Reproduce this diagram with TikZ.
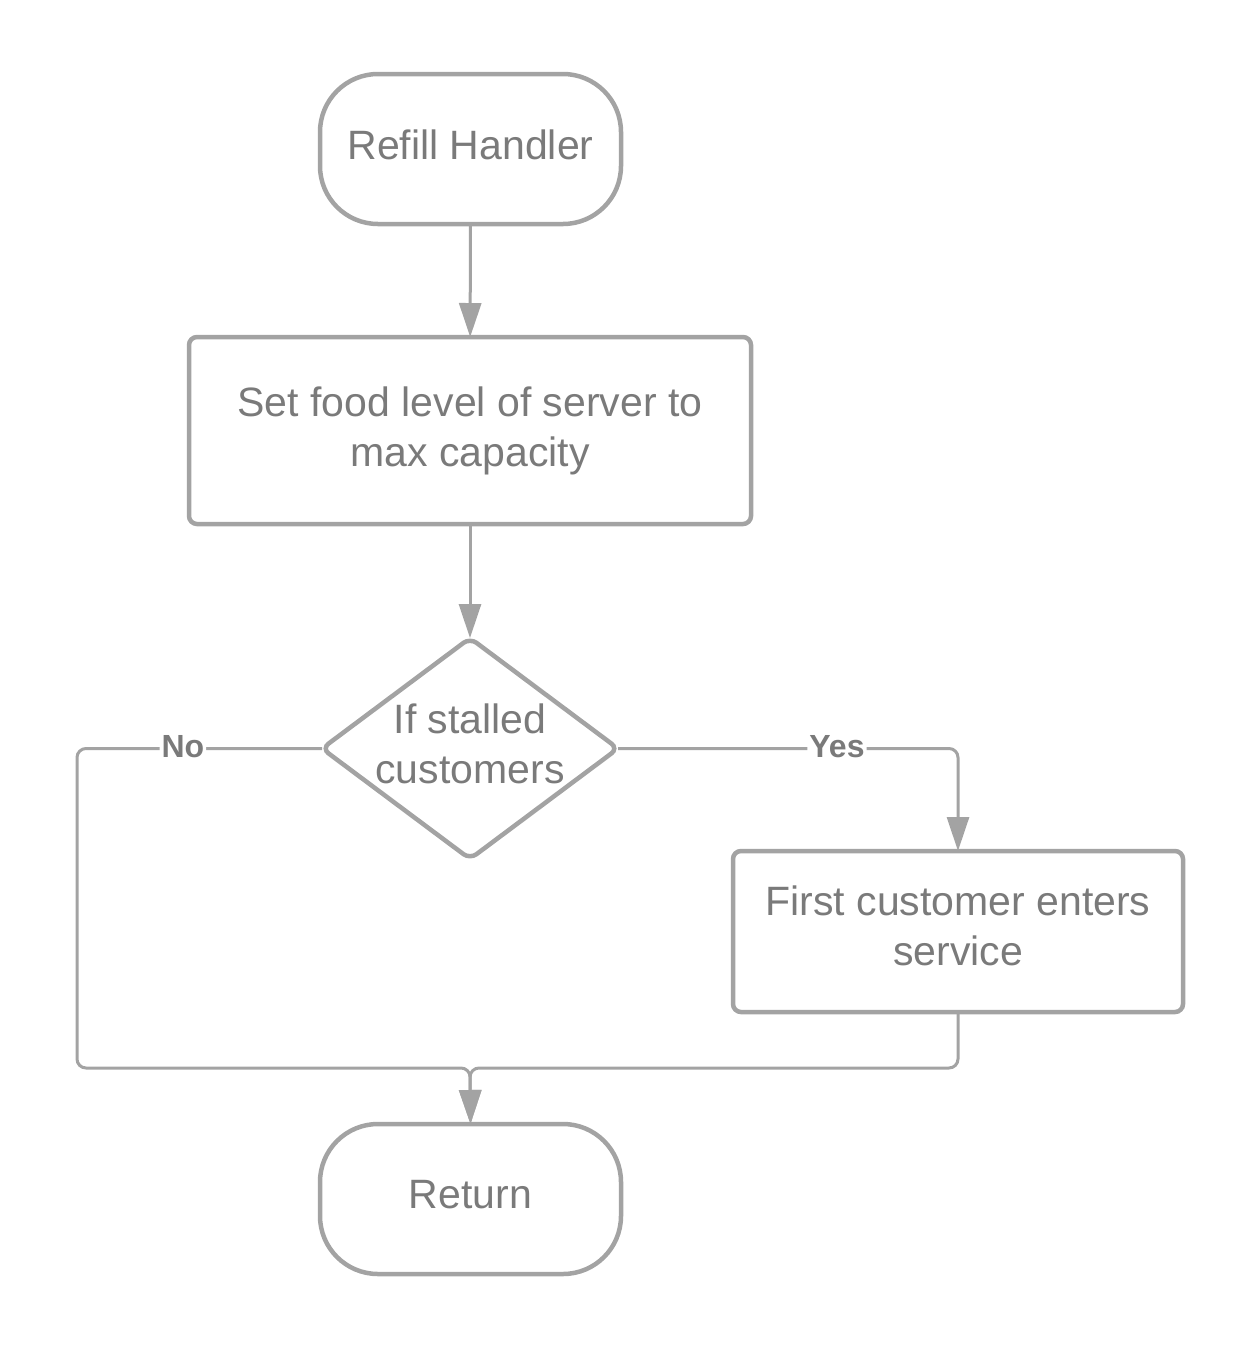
\documentclass[tikz,border=0pt]{standalone}
\usepackage{fontspec}
\setmainfont{Liberation Sans}
\usetikzlibrary{shapes.geometric,arrows.meta}
\definecolor{linegray}{HTML}{A3A3A3}
\definecolor{textgray}{HTML}{7A7A7A}
\tikzset{
  base/.style={draw=linegray, line width=2.25pt, text=textgray, outer sep=0pt, inner sep=0pt,
    align=center, font=\fontsize{20.5}{25}\selectfont},
  terminal/.style={base, rectangle, rounded corners=29pt, minimum width=150.5pt, minimum height=75pt},
  procbox/.style={base, rectangle, rounded corners=4pt},
  decision/.style={base, diamond, rounded corners=4pt, minimum width=148pt, minimum height=110.5pt},
  inner/.style={text=textgray, align=center, inner sep=0pt, font=\fontsize{20.5}{25}\selectfont},
  conn/.style={draw=linegray, line width=1.5pt, rounded corners=4.5pt, -{Triangle[length=17pt,width=11pt]}},
  lbl/.style={fill=white, text=textgray, inner sep=1pt, font=\bfseries\fontsize{16}{19}\selectfont}
}
\begin{document}
\begin{tikzpicture}[x=0.5pt,y=-0.5pt]
\useasboundingbox (0,0) rectangle (1258,1350);
\node[terminal, label={[inner, yshift=2pt]center:Refill Handler}] (start) at (470.5,149) {};
\node[procbox, minimum width=281pt, minimum height=93.5pt] (box1) at (470,430.5) {Set food level of server to\\max capacity};
\node[decision, label={[inner, yshift=2.2pt]center:{If stalled\\customers}}] (dec) at (470,748.5) {};
\node[procbox, minimum width=225pt, minimum height=80.5pt, label={[inner, yshift=3pt]center:{First customer enters\\service}}] (box2) at (958,931.5) {};
\node[terminal, label={[inner, yshift=2pt]center:Return}] (ret) at (470.5,1199) {};
\coordinate (nl) at (77,1068);
\coordinate (m) at (470,1068);

\draw[conn] (start) -- (box1);
\draw[conn] (box1) -- (dec);
\draw[conn] (dec.east) -| node[lbl, pos=0.322, yshift=1pt] {Yes} (box2.north);
\draw[conn] (dec.west) -| node[lbl, pos=0.284, yshift=1pt] {No} (nl) -- (m) -- (ret.north);
\draw[conn] (box2.south) |- (m) -- (ret.north);
\end{tikzpicture}
\end{document}
